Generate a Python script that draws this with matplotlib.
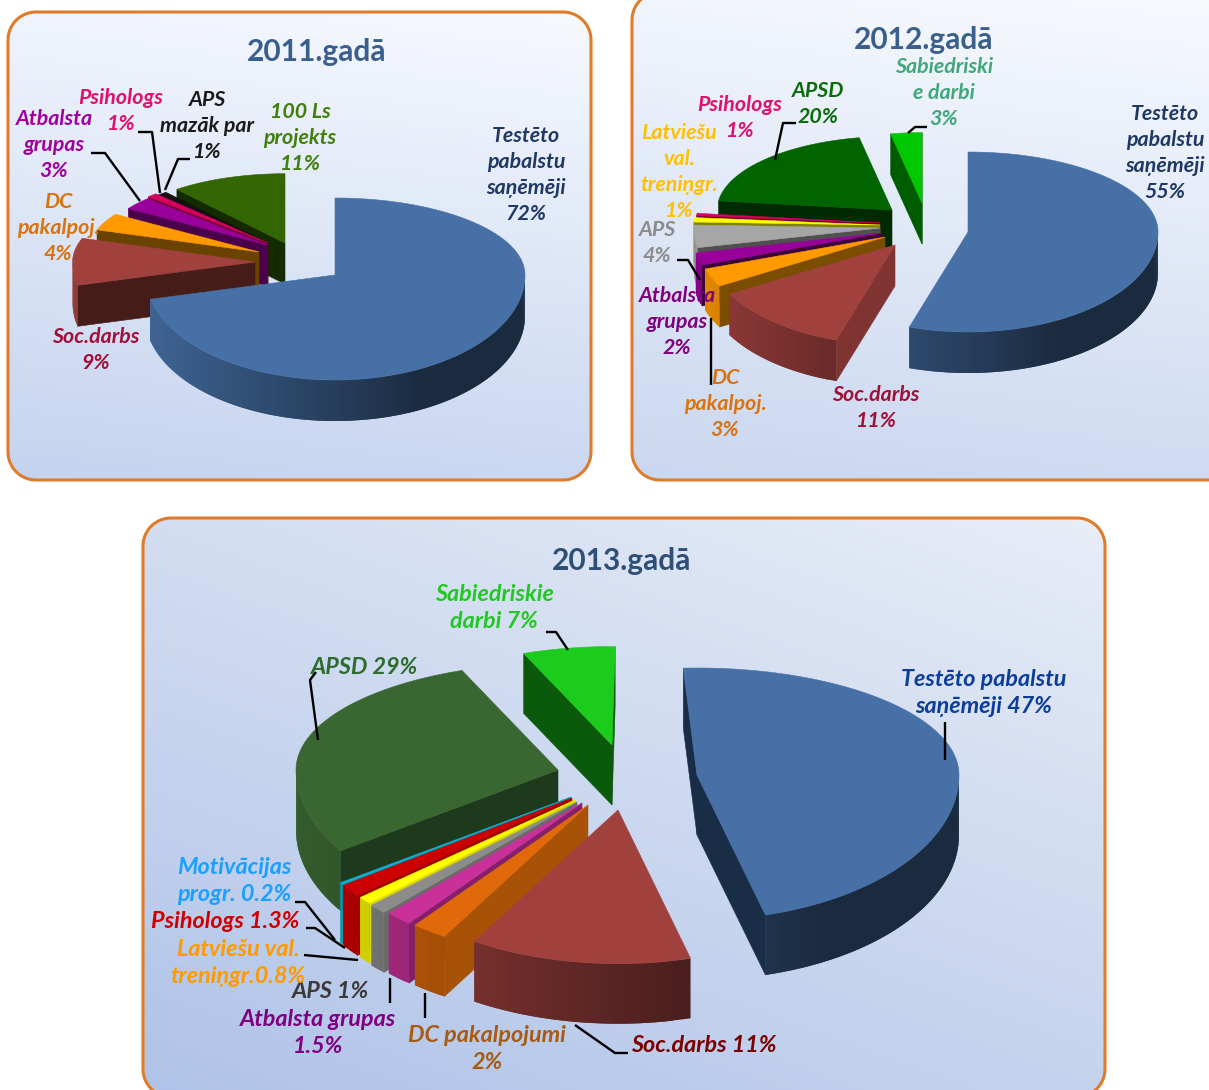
import numpy as np
import matplotlib
matplotlib.use('Agg')
import matplotlib.pyplot as plt
from matplotlib.colors import to_rgb
from matplotlib.patches import Polygon

# daten
values_2011 = [72, 9, 4, 3, 1, 1, 11]
labels_2011 = ['Testēto\npabalstu\nsaņēmēji\n72%', 'Soc.darbs\n9%', 'DC\npakalpoj.\n4%', 'Atbalsta\ngrupas\n3%',
               'Psihologs\n1%', 'APS\nmazāk par\n1%', '100 Ls\nprojekts\n11%']

values_2012 = [55, 11, 3, 2, 4, 1, 1, 20, 3]
labels_2012 = ['Testēto\npabalstu\nsaņēmēji\n55%', 'Soc.darbs\n11%', 'DC\npakalpoj.\n3%', 'Atbalsta\ngrupas\n2%',
               'APS\n4%', 'Latviešu\nval.\ntreniņgr.\n1%', 'Psihologs\n1%', 'APSD\n20%', 'Sabiedriski\ne darbi\n3%']

values_2013 = [47, 11, 2, 1.5, 1, 0.8, 1.3, 0.2, 29, 7]
labels_2013 = ['Testēto pabalstu\nsaņēmēji 47%', 'Soc.darbs 11%', 'DC pakalpojumi\n2%', 'Atbalsta grupas\n1.5%',
               'APS 1%', 'Latviešu val.\ntreniņgr.0.8%', 'Psihologs 1.3%', 'Motivācijas\nprogr. 0.2%', 'APSD 29%',
               'Sabiedriskie\ndarbi 7%']

# style 2011
top_2011 = ['#4670A6', '#A0413E', '#FF9900', '#990099', '#D6005F', '#111111', '#336600']
side_2011 = ['#1B2D48', '#451C18', '#6B4300', '#4A004A', '#70002F', '#000000', '#142B00']
text_2011 = ['#1F3864', '#A01038', '#D9730D', '#A000A0', '#E0106E', '#1A1A1A', '#3F7F0A']
pos_2011 = [(526, 175), (96, 350), (58, 228), (54, 145), (121, 111), (207, 126), (300, 138)]
explode_2011 = [(0, 0), (-80, -13), (-76, -23), (-68, -30), (-67, -32), (-67, -32), (-50, -32)]
scale_2011 = [1, 0.96, 0.9, 0.87, 0.87, 0.85, 0.9]
lines_2011 = [[(138, 132), (152, 132), (160, 193)], [(190, 159), (178, 159), (165, 190)],
              [(91, 153), (105, 153), (140, 201)]]

# style 2012
top_2012 = ['#4670A6', '#A0413E', '#FF9900', '#990099', '#A6A6A6', '#FFFF00', '#D6005F', '#006400', '#00C800']
side_2012 = ['#2A4A70', '#7F3431', '#7A4D00', '#3C003C', '#505050', '#808000', '#70002F', '#002A00', '#005C00']
text_2012 = ['#1F3864', '#A01038', '#D9730D', '#800080', '#8C8C8C', '#FFC000', '#E0106E', '#0B6B0B', '#3FA87A']
pos_2012 = [(1165, 153), (876, 408), (725, 404), (677, 322), (657, 243), (679, 172), (740, 118), (818, 104), (944, 93)]
explode_2012 = [(0, 0), (-73, 13), (-83, 5), (-86, 1), (-88, -4), (-88, -7), (-88, -9), (-76, -22), (-46, -29)]
scale_2012 = [1, 1, 1, 1, 0.98, 0.98, 0.97, 0.92, 0.88]
lines_2012 = [[(796, 123), (783, 123), (775, 160)], [(927, 127), (915, 127), (908, 133)],
              [(677, 260), (688, 260), (700, 280)], [(711, 318), (711, 385)]]

# style 2013
top_2013 = ['#4670A6', '#A0413E', '#E06A0A', '#C9309A', '#8C8C8C', '#FFFF00', '#CC0000', '#10B0D0', '#3A6632', '#1CCC1C']
side_2013 = ['#1A2D47', '#5A2320', '#A85208', '#84206A', '#6A6A6A', '#D8D800', '#A00000', '#0090A8', '#1E3A1C', '#0B5A0B']
text_2013 = ['#0B3D9C', '#7A0000', '#A85A10', '#800080', '#3A3A3A', '#FF9900', '#D00000', '#1AA0FF', '#2E6B2E', '#22C822']
pos_2013 = [(984, 693), (704, 1045), (487, 1049), (318, 1033), (331, 992), (238, 963), (225, 921), (234, 881),
            (365, 667), (494, 608)]
explode_2013 = [(0, 0), (-79, 35), (-109, 30), (-115, 28), (-120, 27), (-122, 25), (-125, 23), (-126, 22), (-139, -5),
                (-85, -30)]
scale_2013 = [1, 1.06, 1.06, 1.06, 1.06, 1.06, 1.06, 1.06, 1, 0.92]
lines_2013 = [[(318, 740), (310, 680), (316, 672)], [(945, 760), (945, 722)], [(546, 632), (556, 632), (568, 650)],
              [(575, 1025), (615, 1053), (628, 1053)], [(425, 993), (425, 1018)], [(390, 978), (390, 1003)],
              [(304, 955), (358, 960)], [(306, 928), (315, 928), (345, 948)], [(295, 902), (305, 902), (335, 940)]]

plt.rcParams['font.family'] = ['Lato', 'DejaVu Sans']

fig = plt.figure(figsize=(12.09, 10.90), dpi=100)
ax = fig.add_axes([0, 0, 1, 1])
ax.axis('off')


def round_rect(x0, y0, x1, y1, r):
    # ecken als polygon, fancybox kurven werden am bildrand falsch geschnitten
    a = np.radians(np.linspace(0, 90, 16))
    s, c = np.sin(a), np.cos(a)
    xs = np.r_[x0 + r - r * c, x1 - r + r * s, x1 - r + r * c, x0 + r - r * s]
    ys = np.r_[y0 + r - r * s, y0 + r - r * c, y1 - r + r * s, y1 - r + r * c]
    return np.c_[xs, ys]


def panel(x0, y0, x1, y1, c_start, c_end, tilt):
    # abgerundetes feld mit verlauf
    yy, xx = np.mgrid[0:1:200j, 0:1:200j]
    t = (yy + tilt * (1 - xx)) / (1 + tilt)
    c0, c1 = np.array(to_rgb(c_start)), np.array(to_rgb(c_end))
    img = c0[None, None, :] * (1 - t[..., None]) + c1[None, None, :] * t[..., None]
    box = Polygon(round_rect(x0, y0, x1, y1, 28), closed=True, facecolor='none', edgecolor='#E07B2A', linewidth=2.2,
                  zorder=2)
    ax.add_patch(box)
    im = ax.imshow(img, extent=(x0, x1, y1, y0), aspect='auto', zorder=1)
    im.set_clip_path(box)


def rim(cx, cy, rx, ryu, ryd, theta):
    s, c = np.sin(theta), np.cos(theta)
    return cx + rx * s, cy - np.where(c > 0, ryu, ryd) * c


def warp_angle(deg, warp):
    # perspektive: winkel im bereich lo..hi etwas weiter drehen
    if warp is None:
        return deg
    lo, hi, amp = warp
    u = np.clip((deg - lo) / (hi - lo), 0, 1)
    return deg + amp * np.sin(u * np.pi) ** 0.25


def pie3d(values, tops, sides, explode, scale, center, rx, ryu, ryd, depth, start=0, warp=None):
    # segmente im uhrzeigersinn, von oben
    total = sum(values)
    edges = start + np.cumsum([0] + list(values)) / total * 360
    for i in reversed(range(len(values))):
        cx, cy = center[0] + explode[i][0], center[1] + explode[i][1]
        t = np.linspace(edges[i], edges[i + 1], max(int(edges[i + 1] - edges[i]) + 2, 3))
        t = np.radians(warp_angle(t, warp))
        x, y = rim(cx, cy, rx * scale[i], ryu * scale[i], ryd * scale[i], t)
        # radiale wände
        if x[0] < cx:
            ax.fill([cx, x[0], x[0], cx], [cy, y[0], y[0] + depth, cy + depth], color=sides[i], lw=0.4, zorder=3)
        if x[-1] > cx:
            ax.fill([cx, x[-1], x[-1], cx], [cy, y[-1], y[-1] + depth, cy + depth], color=sides[i], lw=0.4, zorder=3)
        # aussenwand mit schattierung, streifen überlappen damit keine nähte bleiben
        base = np.array(to_rgb(tops[i]))
        for j in range(len(t) - 1):
            if x[j + 1] < x[j]:
                k = min(j + 2, len(t) - 1)
                f = np.clip(0.55 - 0.35 * np.sin((t[j] + t[j + 1]) / 2), 0.38, 0.9)
                ax.fill([x[j], x[k], x[k], x[j]], [y[j], y[k], y[k] + depth, y[j] + depth],
                        color=base * f, lw=0, zorder=3)
        # oberseite
        ax.fill(np.r_[cx, x], np.r_[cy, y], color=tops[i], lw=0.4, zorder=3)


def add_labels(labels, colors, positions, size, spacing):
    for txt, col, (x, y) in zip(labels, colors, positions):
        ax.text(x, y, txt, color=col, fontsize=size, fontweight='bold', fontstyle='italic', ha='center', va='center',
                linespacing=spacing, zorder=6)


def add_lines(lines):
    for ln in lines:
        ax.plot([p[0] for p in ln], [p[1] for p in ln], color='black', lw=1.7, zorder=5, solid_capstyle='butt')


panel(8, 12, 591, 480, '#F7F9FE', '#C4D3EF', 0.15)
panel(632, -8, 1240, 480, '#F8FAFE', '#CAD7F0', 0.15)
panel(143, 518, 1105, 1097, '#E8EDF7', '#AFC3E8', 0.6)

pie3d(values_2011, top_2011, side_2011, explode_2011, scale_2011, (335, 275), 190, 77, 105, 41)
pie3d(values_2012, top_2012, side_2012, explode_2012, scale_2012, (968, 232), 190, 80, 100, 41, warp=(198, 277, 3))
pie3d(values_2013, top_2013, side_2013, explode_2013, scale_2013, (697, 775), 262, 107, 145, 60, start=-3,
      warp=(165, 360, 8))

add_lines(lines_2011)
add_lines(lines_2012)
add_lines(lines_2013)

add_labels(labels_2011, text_2011, pos_2011, 15.4, 1.38)
add_labels(labels_2012, text_2012, pos_2012, 15.4, 1.38)
add_labels(labels_2013, text_2013, pos_2013, 16.8, 1.4)

ax.text(317, 52, '2011.gadā', color='#3A5F8C', fontsize=21.5, fontweight='bold', ha='center', va='center', zorder=6)
ax.text(924, 40, '2012.gadā', color='#3A5F8C', fontsize=21.5, fontweight='bold', ha='center', va='center', zorder=6)
ax.text(622, 561, '2013.gadā', color='#2F4F75', fontsize=21.5, fontweight='bold', ha='center', va='center', zorder=6)

ax.set_xlim(0, 1209)
ax.set_ylim(1090, 0)

fig.savefig('out.png', dpi=100)
